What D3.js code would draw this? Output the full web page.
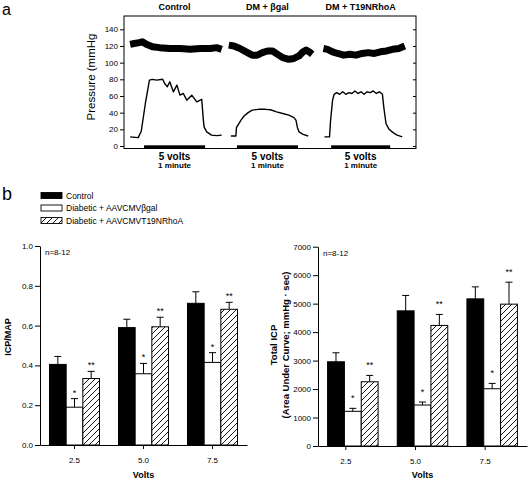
<!DOCTYPE html>
<html><head><meta charset="utf-8">
<script src="https://cdn.jsdelivr.net/npm/d3@7"></script>
<style>body{margin:0;background:#fff}svg{display:block}text{font-family:"Liberation Sans",Arial,sans-serif}</style>
</head><body><svg id="c" width="528" height="482"></svg>
<script>
// ================= Panel a data (time in seconds, pressure in mmHg) =================
const traceTitles = ["Control", "DM + \u03B2gal", "DM + T19NRhoA"];
const stimText = ["5 volts", "1 minute"];
const stimulusSec = [[19.7, 79.7], [111, 171], [203.6, 261.6]];
const pressureTicks = [0, 20, 40, 60, 80, 100, 120, 140];
const mapControl = [[6,122],[10,123],[15,124],[18,125],[22,122],[28,119],[35,118],[45,117],[55,117],[65,116],[75,117],[85,117],[91,118],[96,116]];
const mapBgal = [[103,121],[108,120],[114,117],[120,113],[126,109],[131,109],[136,112],[141,114],[146,114],[151,110],[156,106],[162,104],[167,105],[172,108],[176,113],[179,115],[182,113],[185,110]];
const mapRhoA = [[196,117],[200,116],[205,113],[210,111],[216,109],[222,110],[228,109],[234,111],[240,112],[246,111],[252,113],[258,114],[264,116],[270,117],[276,120]];
const icpControl = [[6,11],[14,10],[17,18],[21,51],[25,79],[28,80],[32,79],[38,80],[40,75],[42.6,71],[45,77],[48.5,65],[52,73],[55,61],[58.3,63],[61.7,55],[66.6,61],[71.5,53],[76.4,56],[78,31],[78.7,23],[81.3,17],[86,13],[91,12.5],[96,13]];
const icpBgal = [[105,12],[110,12],[110.5,22],[112,25],[115,31],[118,36],[122,40],[126,43],[132,44],[139,44],[144,43.5],[150,41],[156,39],[162,37],[167,34],[169,31],[170.5,22],[172,17],[176,14],[181,12]];
const icpRhoA = [[197,11],[202,11],[203,30],[205,55],[206.5,62],[209,64],[212,62],[215,65],[218,62],[221,64],[224,63],[227,66],[230,63],[233,65],[236,62],[239,65],[242,64],[245,66],[248,63],[251,65],[254,62],[255.5,45],[257.5,27],[260.5,20],[264.5,16],[268.5,13],[273.5,11]];

// ================= Panel b data =================
const volts = ["2.5", "5.0", "7.5"];
const groupNames = ["Control", "Diabetic + AAVCMV\u03B2gal", "Diabetic + AAVCMVT19NRhoA"];
const ratioControl = [0.405, 0.59, 0.712];
const ratioControlSem = [0.04, 0.042, 0.058];
const ratioBgal = [0.19, 0.358, 0.415];
const ratioBgalSem = [0.043, 0.052, 0.049];
const ratioRhoA = [0.334, 0.594, 0.682];
const ratioRhoASem = [0.036, 0.048, 0.035];
const icpTotControl = [2958, 4747, 5168];
const icpTotControlSem = [316, 541, 422];
const icpTotBgal = [1218, 1439, 2011];
const icpTotBgalSem = [105, 105, 188];
const icpTotRhoA = [2256, 4235, 4982];
const icpTotRhoASem = [224, 386, 772];
const starMarks = ["", "*", "**"];
const ratioTicks = [0, 0.2, 0.4, 0.6, 0.8, 1.0];
const icpTicks = [0, 1000, 2000, 3000, 4000, 5000, 6000, 7000];
const nText = "n=8-12";

const svg = d3.select("#c");
const FONT = '"Liberation Sans", Arial, sans-serif';
svg.append("rect").attr("width", 528).attr("height", 482).attr("fill", "#fff");

const defs = svg.append("defs");
const pat = defs.append("pattern").attr("id", "hatch").attr("patternUnits", "userSpaceOnUse")
  .attr("width", 6).attr("height", 6);
pat.append("rect").attr("width", 6).attr("height", 6).attr("fill", "#fff");
pat.append("path").attr("d", "M0,6 L6,0 M-1,1 L1,-1 M5,7 L7,5").attr("stroke", "#000").attr("stroke-width", 0.9);

function styleAxis(g, fs) {
  g.selectAll("text").attr("font-family", FONT).attr("font-size", fs).attr("fill", "#000");
  g.selectAll("line").attr("stroke", "#000");
  g.select(".domain").attr("stroke", "#000");
}

// ---------------- Panel a ----------------
svg.append("text").attr("x", 2).attr("y", 14.5).attr("font-size", 16).text("a");
const xa = d3.scaleLinear().domain([0, 287]).range([124, 416]);
const ya = d3.scaleLinear().domain([0, 140]).range([146, 29.3]);
const lineA = d3.line().x(d => xa(d[0])).y(d => ya(d[1])).curve(d3.curveLinear);

svg.append("rect").attr("x", 124).attr("y", 16).attr("width", 292).attr("height", 132.5)
  .attr("fill", "none").attr("stroke", "#000").attr("stroke-width", 1);
const gal = svg.append("g").attr("transform", "translate(124,0)")
  .call(d3.axisLeft(ya).tickValues(pressureTicks).tickSize(4).tickPadding(2));
gal.select(".domain").remove();
styleAxis(gal, 8);
const gar = svg.append("g").attr("transform", "translate(416,0)")
  .call(d3.axisLeft(ya).tickValues(pressureTicks).tickSize(3).tickFormat(""));
gar.select(".domain").remove();
styleAxis(gar, 8);

svg.append("text").attr("transform", "translate(95,77) rotate(-90)").attr("text-anchor", "middle")
  .attr("font-size", 11.5).text("Pressure (mmHg");

[mapControl, mapBgal, mapRhoA].forEach(d => {
  svg.append("path").attr("d", lineA(d)).attr("fill", "none").attr("stroke", "#000")
    .attr("stroke-width", 7).attr("stroke-linejoin", "round");
});
[icpControl, icpBgal, icpRhoA].forEach(d => {
  svg.append("path").attr("d", lineA(d)).attr("fill", "none").attr("stroke", "#000")
    .attr("stroke-width", 1.4).attr("stroke-linejoin", "round");
});
stimulusSec.forEach((s, i) => {
  const cx = (xa(s[0]) + xa(s[1])) / 2;
  svg.append("rect").attr("x", xa(s[0])).attr("y", 145.3).attr("width", xa(s[1]) - xa(s[0]))
    .attr("height", 2.7).attr("fill", "#000");
  svg.append("text").attr("x", cx).attr("y", 9.5).attr("text-anchor", "middle")
    .attr("font-size", 9).attr("font-weight", "bold").text(traceTitles[i]);
  svg.append("text").attr("x", cx).attr("y", 159.6).attr("text-anchor", "middle")
    .attr("font-size", 10).attr("font-weight", "bold").text(stimText[0]);
  svg.append("text").attr("x", cx).attr("y", 167.5).attr("text-anchor", "middle")
    .attr("font-size", 8).attr("font-weight", "bold").text(stimText[1]);
});

// ---------------- Panel b ----------------
svg.append("text").attr("x", 2).attr("y", 199.5).attr("font-size", 18).text("b");
const fills = ["#000", "#fff", "url(#hatch)"];
const legendY = [195.5, 208, 220.5];
groupNames.forEach((n, i) => {
  svg.append("rect").attr("x", 41).attr("y", legendY[i] - 3).attr("width", 21).attr("height", 6)
    .attr("fill", fills[i]).attr("stroke", "#000").attr("stroke-width", 0.9);
  svg.append("text").attr("x", 66).attr("y", legendY[i] + 3).attr("font-size", 8.5).text(n);
});

function barChart(opt) {
  const x0 = d3.scaleBand().domain(volts).range(opt.xr).paddingInner(0.275).paddingOuter(0.1375);
  const x1 = d3.scaleBand().domain([0, 1, 2]).range([0, x0.bandwidth()]);
  const y = d3.scaleLinear().domain(opt.dom).range(opt.yr);
  const series = opt.series;
  series.forEach((s, si) => {
    volts.forEach((v, vi) => {
      const bx = x0(v) + x1(si), bw = x1.bandwidth();
      const top = y(s.m[vi]), errTop = y(s.m[vi] + s.e[vi]), cx = bx + bw / 2;
      svg.append("line").attr("x1", cx).attr("x2", cx).attr("y1", top).attr("y2", errTop)
        .attr("stroke", "#000").attr("stroke-width", 1);
      svg.append("line").attr("x1", cx - 3.5).attr("x2", cx + 3.5).attr("y1", errTop).attr("y2", errTop)
        .attr("stroke", "#000").attr("stroke-width", 1);
      svg.append("rect").attr("x", bx).attr("y", top).attr("width", bw).attr("height", y(0) - top)
        .attr("fill", fills[si]).attr("stroke", "#000").attr("stroke-width", 1);
      if (starMarks[si]) {
        svg.append("text").attr("x", cx).attr("y", errTop - opt.starOff).attr("text-anchor", "middle")
          .attr("font-size", 9).text(starMarks[si]);
      }
    });
  });
  const gy = svg.append("g").attr("transform", `translate(${opt.xr[0]},0)`)
    .call(d3.axisLeft(y).tickValues(opt.ticks).tickFormat(opt.fmt).tickSize(5).tickPadding(2).tickSizeOuter(0));
  styleAxis(gy, 8);
  const gx = svg.append("g").attr("transform", `translate(0,${y(0)})`)
    .call(d3.axisBottom(x0).tickSize(4).tickPadding(8).tickSizeOuter(0));
  gx.selectAll(".tick").attr("transform", d => `translate(${x0(d) + x0.bandwidth() / 2 + opt.tickShift},0)`);
  styleAxis(gx, 8);
  svg.append("text").attr("x", (opt.xr[0] + opt.xr[1]) / 2).attr("y", 478).attr("text-anchor", "middle")
    .attr("font-size", 9).attr("font-weight", "bold").text("Volts");
  svg.append("text").attr("x", opt.xr[0] + 5).attr("y", y(opt.dom[1]) + 9).attr("font-size", 8).text(nText);
}

barChart({
  xr: [40, 247], dom: [0, 1.0], yr: [445, 246], ticks: ratioTicks, fmt: d3.format(".1f"), starOff: 3, tickShift: 0,
  series: [{ m: ratioControl, e: ratioControlSem }, { m: ratioBgal, e: ratioBgalSem }, { m: ratioRhoA, e: ratioRhoASem }]
});
svg.append("text").attr("transform", "translate(11,337) rotate(-90)").attr("text-anchor", "middle")
  .attr("font-size", 9).attr("font-weight", "bold").text("ICP/MAP");

barChart({
  xr: [318, 527], dom: [0, 7000], yr: [446, 246.7], ticks: icpTicks, fmt: d3.format("d"), starOff: 7, tickShift: -7,
  series: [{ m: icpTotControl, e: icpTotControlSem }, { m: icpTotBgal, e: icpTotBgalSem }, { m: icpTotRhoA, e: icpTotRhoASem }]
});
svg.append("text").attr("transform", "translate(277,345) rotate(-90)").attr("text-anchor", "middle")
  .attr("font-size", 9.5).attr("font-weight", "bold").text("Total ICP");
svg.append("text").attr("transform", "translate(289,345) rotate(-90)").attr("text-anchor", "middle")
  .attr("font-size", 9.5).attr("font-weight", "bold").text("(Area Under Curve; mmHg \u00B7 sec)");
</script></body></html>
